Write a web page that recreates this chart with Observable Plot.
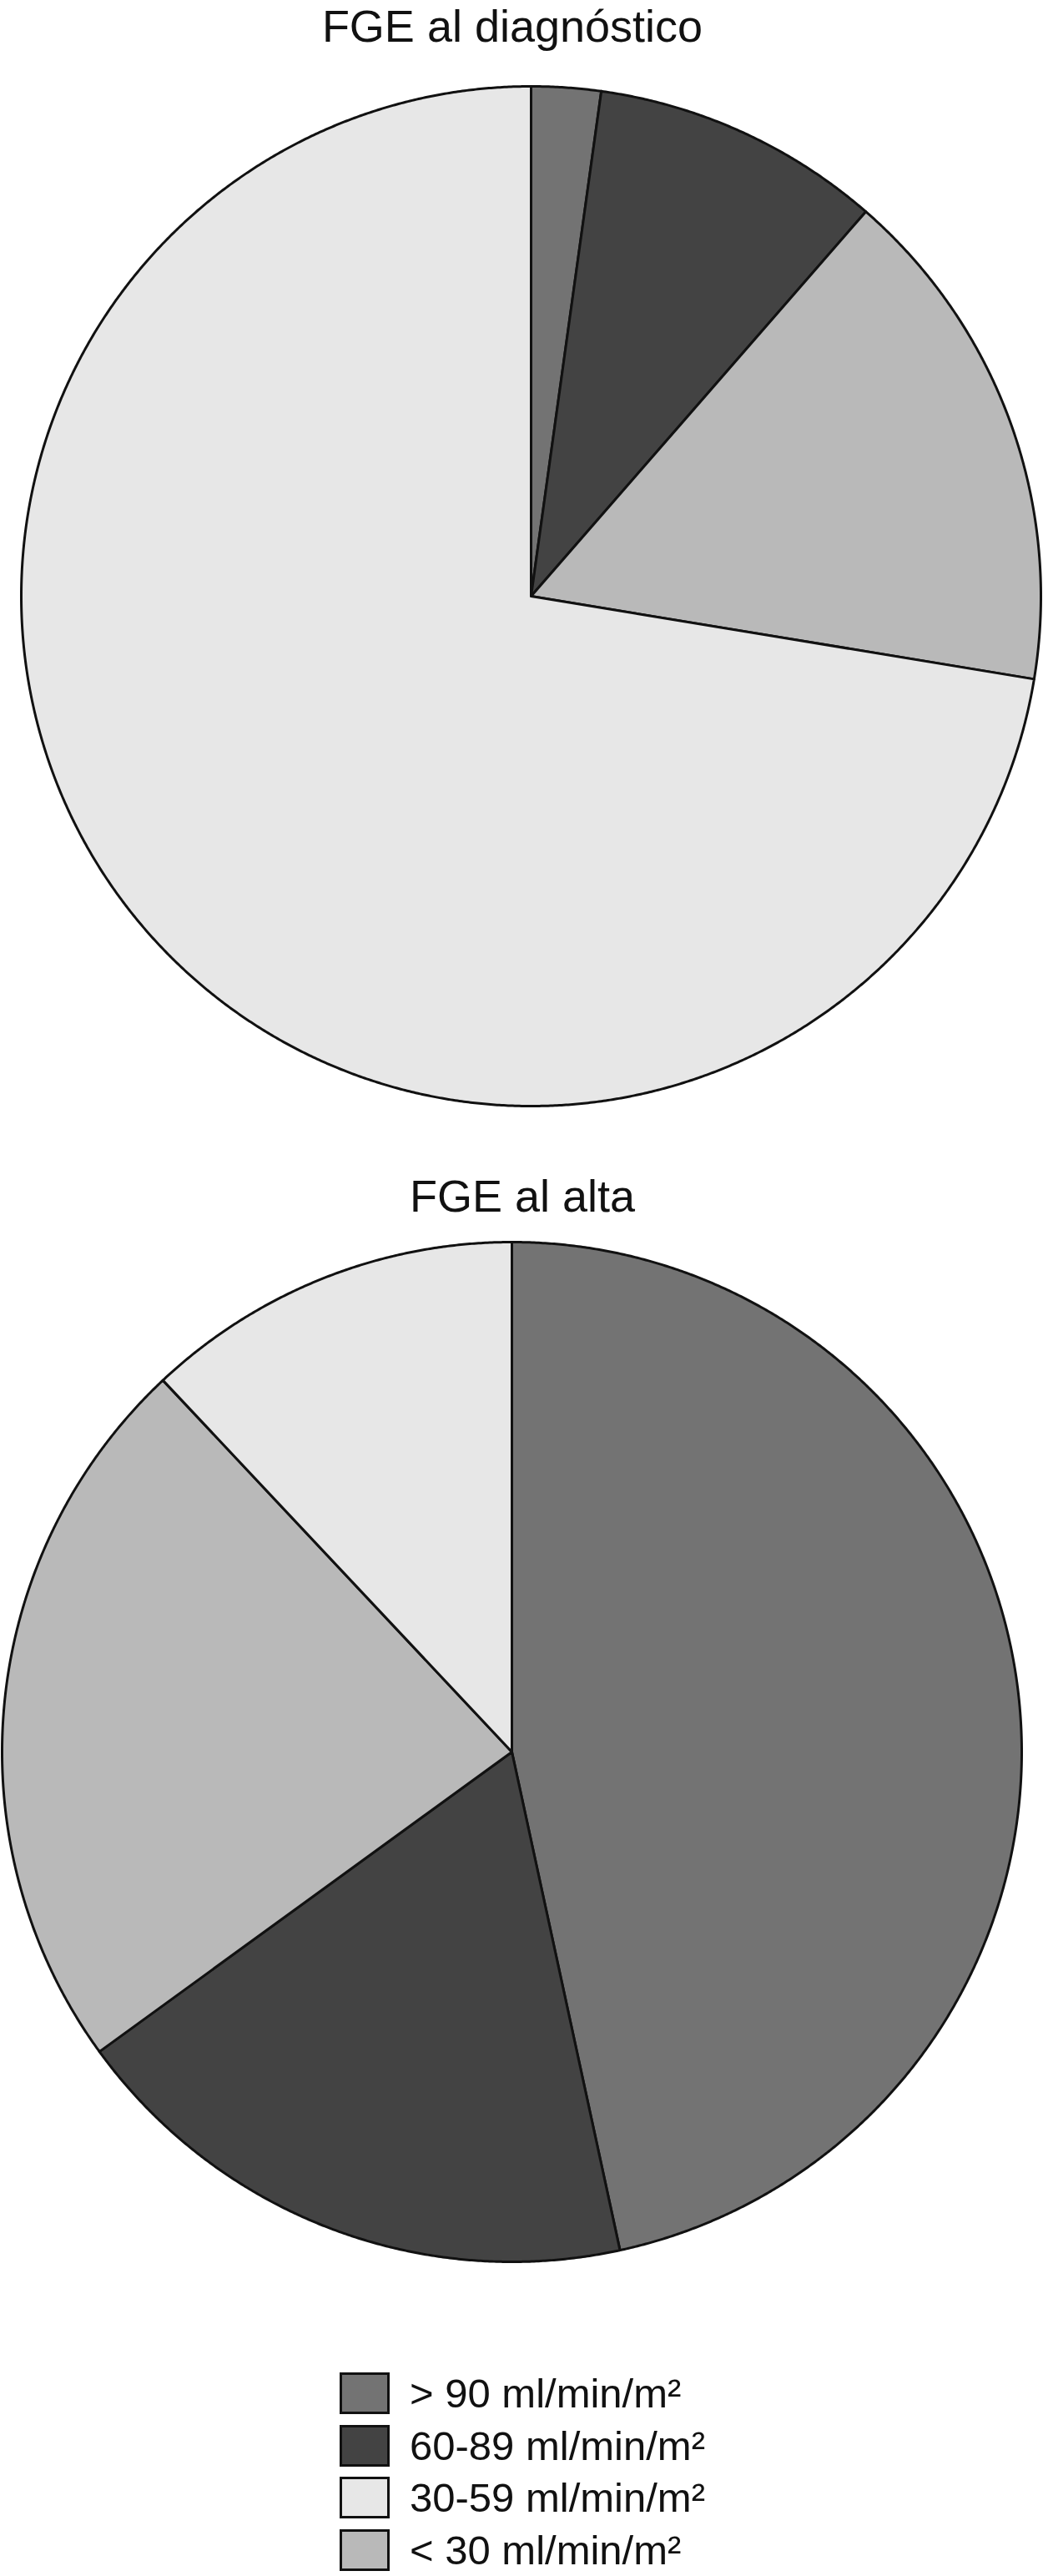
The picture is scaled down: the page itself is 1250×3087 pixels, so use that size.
<!DOCTYPE html>
<html><head><meta charset="utf-8">
<script src="https://cdn.jsdelivr.net/npm/d3@7"></script>
<script src="https://cdn.jsdelivr.net/npm/@observablehq/plot@0.6"></script>
<style>
body{margin:0;background:#fff;font-family:"Liberation Sans",Arial,Helvetica,sans-serif;}
#page{position:relative;width:1250px;height:3087px;overflow:hidden;background:#fff;}
.title{position:absolute;width:800px;text-align:center;font-size:54px;line-height:54px;color:#111;white-space:nowrap;}
.chart{position:absolute;left:0;}
.legend-row{position:absolute;left:407px;height:50px;display:flex;align-items:center;}
.sw{box-sizing:border-box;width:60px;height:50px;border:3px solid #111;}
.lab{margin-left:24px;font-size:49px;line-height:50px;color:#111;white-space:nowrap;}
</style></head><body><div id="page"></div>
<script>
// Categories (legend order) and their grey fills
const categories = ["> 90 ml/min/m²", "60-89 ml/min/m²", "30-59 ml/min/m²", "< 30 ml/min/m²"];
const colors = ["#737373", "#434343", "#e7e7e7", "#b9b9b9"];
// Order of slices, clockwise from 12 o'clock
const sliceOrder = ["> 90 ml/min/m²", "60-89 ml/min/m²", "< 30 ml/min/m²", "30-59 ml/min/m²"];
// Percentages, in legend order
const diagnosticoValues = [2.2, 9.2, 72.4, 16.2];
const altaValues = [46.6, 18.4, 12.0, 23.0];
const titles = ["FGE al diagnóstico", "FGE al alta"];

const page = document.getElementById("page");

function addTitle(text, centerX, top) {
  const d = document.createElement("div");
  d.className = "title";
  d.textContent = text;
  d.style.left = (centerX - 400) + "px";
  d.style.top = top + "px";
  page.appendChild(d);
}

function pieChart(values, cx, cy, r, top) {
  const data = sliceOrder.map(c => ({cat: c, value: values[categories.indexOf(c)]}));
  const arcs = d3.pie().sort(null).value(d => d.value)(data);
  const pts = [];
  for (const a of arcs) {
    const cat = a.data.cat;
    pts.push({cat, x: 0, y: 0});
    const n = Math.max(2, Math.ceil((a.endAngle - a.startAngle) / (Math.PI / 720)));
    for (let i = 0; i <= n; i++) {
      const t = a.startAngle + (a.endAngle - a.startAngle) * i / n;
      pts.push({cat, x: Math.sin(t), y: Math.cos(t)});
    }
    pts.push({cat, x: 0, y: 0});
  }
  const marginTop = cy - r - top;
  const marginBottom = 10;
  const chart = Plot.plot({
    width: 1250,
    height: marginTop + 2 * r + marginBottom,
    marginLeft: cx - r,
    marginRight: 1250 - (cx + r),
    marginTop,
    marginBottom,
    x: {domain: [-1, 1], axis: null},
    y: {domain: [-1, 1], axis: null},
    color: {domain: categories, range: colors},
    style: {background: "transparent", overflow: "visible"},
    marks: [
      Plot.line(pts, {x: "x", y: "y", z: "cat", fill: "cat", stroke: "#111", strokeWidth: 3, strokeLinejoin: "round", curve: "linear"})
    ]
  });
  const wrap = document.createElement("div");
  wrap.className = "chart";
  wrap.style.top = top + "px";
  wrap.appendChild(chart);
  page.appendChild(wrap);
  return chart;
}

addTitle(titles[0], 614, 4);
const c1 = pieChart(diagnosticoValues, 636, 714, 611, 90);
addTitle(titles[1], 626, 1406);
pieChart(altaValues, 613, 2099, 611, 1478);

const colorScale = c1.scale("color");
categories.forEach((c, i) => {
  const row = document.createElement("div");
  row.className = "legend-row";
  row.style.top = (2843 + i * 62.7) + "px";
  const sw = document.createElement("div");
  sw.className = "sw";
  sw.style.background = colorScale.apply(c);
  const lab = document.createElement("span");
  lab.className = "lab";
  lab.textContent = c;
  row.appendChild(sw);
  row.appendChild(lab);
  page.appendChild(row);
});
</script></body></html>
